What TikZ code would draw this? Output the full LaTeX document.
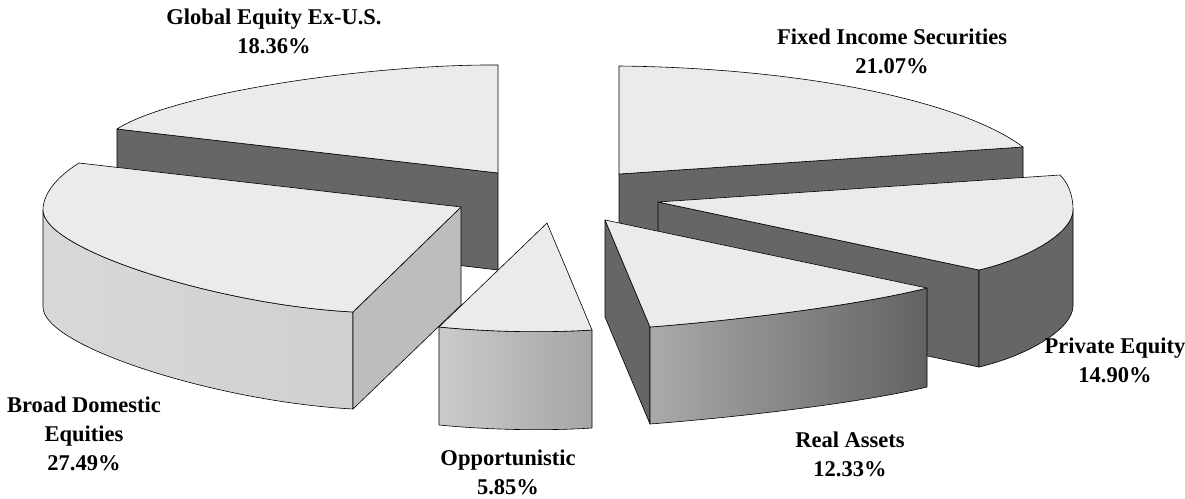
\documentclass[tikz,border=0pt]{standalone}
\usepackage{fontspec}
\setmainfont{Liberation Serif}

\definecolor{facetop}{HTML}{EBEBEB}
\definecolor{facedark}{HTML}{666666}
\definecolor{facemid}{HTML}{BDBDBD}
\definecolor{brdL}{HTML}{D8D8D8}
\definecolor{brdM}{HTML}{EBEBEB}
\definecolor{brdR}{HTML}{D0D0D0}
\definecolor{opptL}{HTML}{CBCBCB}
\definecolor{opptR}{HTML}{A5A5A5}
\definecolor{realL}{HTML}{AAAAAA}
\definecolor{realM}{HTML}{7C7C7C}
\definecolor{realR}{HTML}{626262}

\begin{document}
\begin{tikzpicture}[x=1pt,y=-1pt,
  topface/.style={fill=facetop,draw=black,line width=0.6pt,line join=round},
  darkface/.style={fill=facedark,draw=black,line width=0.6pt,line join=round},
  edge/.style={draw=black,line width=0.6pt,line join=round},
  lbl/.style={font=\bfseries\fontsize{22.5}{29}\selectfont,align=center,anchor=base}]
\useasboundingbox (0,0) rectangle (1185,498);

% Global Equity Ex-U.S.
\draw[darkface] (117,129) -- (498,173) -- (498,270) -- (117,225) -- cycle;
\draw[topface] (498,173) -- (117,129) .. controls (175,92) and (375,64) .. (498,65) -- cycle;

% Fixed Income Securities
\draw[darkface] (619,174) -- (1023,147) -- (1023,243) -- (619,270) -- cycle;
\draw[topface] (619,174) -- (619,66) .. controls (800,68) and (960,100) .. (1023,147) -- cycle;

% Private Equity
\draw[darkface] (658,202) -- (979,270) -- (979,367) -- (658,298) -- cycle;
\draw[darkface] (1073,210) .. controls (1073,232) and (1030,258) .. (979,270) -- (979,367)
  .. controls (1030,355) and (1073,328) .. (1073,306) -- cycle;
\draw[topface] (658,202) -- (1060,175) .. controls (1070,185) and (1073,198) .. (1073,210)
  .. controls (1073,232) and (1030,258) .. (979,270) -- cycle;

% Broad Domestic Equities
\draw[edge,left color=brdL,middle color=brdM,right color=brdR] (43,210) .. controls (43,250) and (220,305) .. (353,312)
  -- (353,409) .. controls (220,402) and (43,347) .. (43,307) -- cycle;
\draw[edge,fill=facemid] (353,312) -- (461,207) -- (461,305) -- (353,409) -- cycle;
\draw[topface] (461,207) -- (79,163) .. controls (55,178) and (43,195) .. (43,210)
  .. controls (43,250) and (220,305) .. (353,312) -- cycle;

% Real Assets
\draw[darkface] (605,220) -- (650,327) -- (650,424) -- (605,317) -- cycle;
\draw[edge,left color=realL,middle color=realM,right color=realR] (650,327) .. controls (740,320) and (860,305) .. (927,288)
  -- (927,387) .. controls (860,403) and (740,417) .. (650,424) -- cycle;
\draw[topface] (605,220) -- (927,288) .. controls (860,305) and (740,320) .. (650,327) -- cycle;

% Opportunistic
\draw[edge,left color=opptL,right color=opptR] (439,327) .. controls (490,332) and (545,333) .. (592,330)
  -- (592,428) .. controls (545,431) and (490,430) .. (439,425) -- cycle;
\draw[topface] (547,223) -- (439,327) .. controls (490,332) and (545,333) .. (592,330) -- cycle;

% labels
\node[lbl] (glbl) at (274,53) {Global Equity Ex-U.S.\\18.36\%};
\node[lbl] (fixd) at (892,73) {Fixed Income Securities\\21.07\%};
\node[lbl] (priv) at (1115,382) {Private Equity\\14.90\%};
\node[lbl] (real) at (850,476) {Real Assets\\12.33\%};
\node[lbl] (oppt) at (508,494) {Opportunistic\\5.85\%};
\node[lbl] (brd) at (84,470) {Broad Domestic\\Equities\\27.49\%};
\end{tikzpicture}
\end{document}
